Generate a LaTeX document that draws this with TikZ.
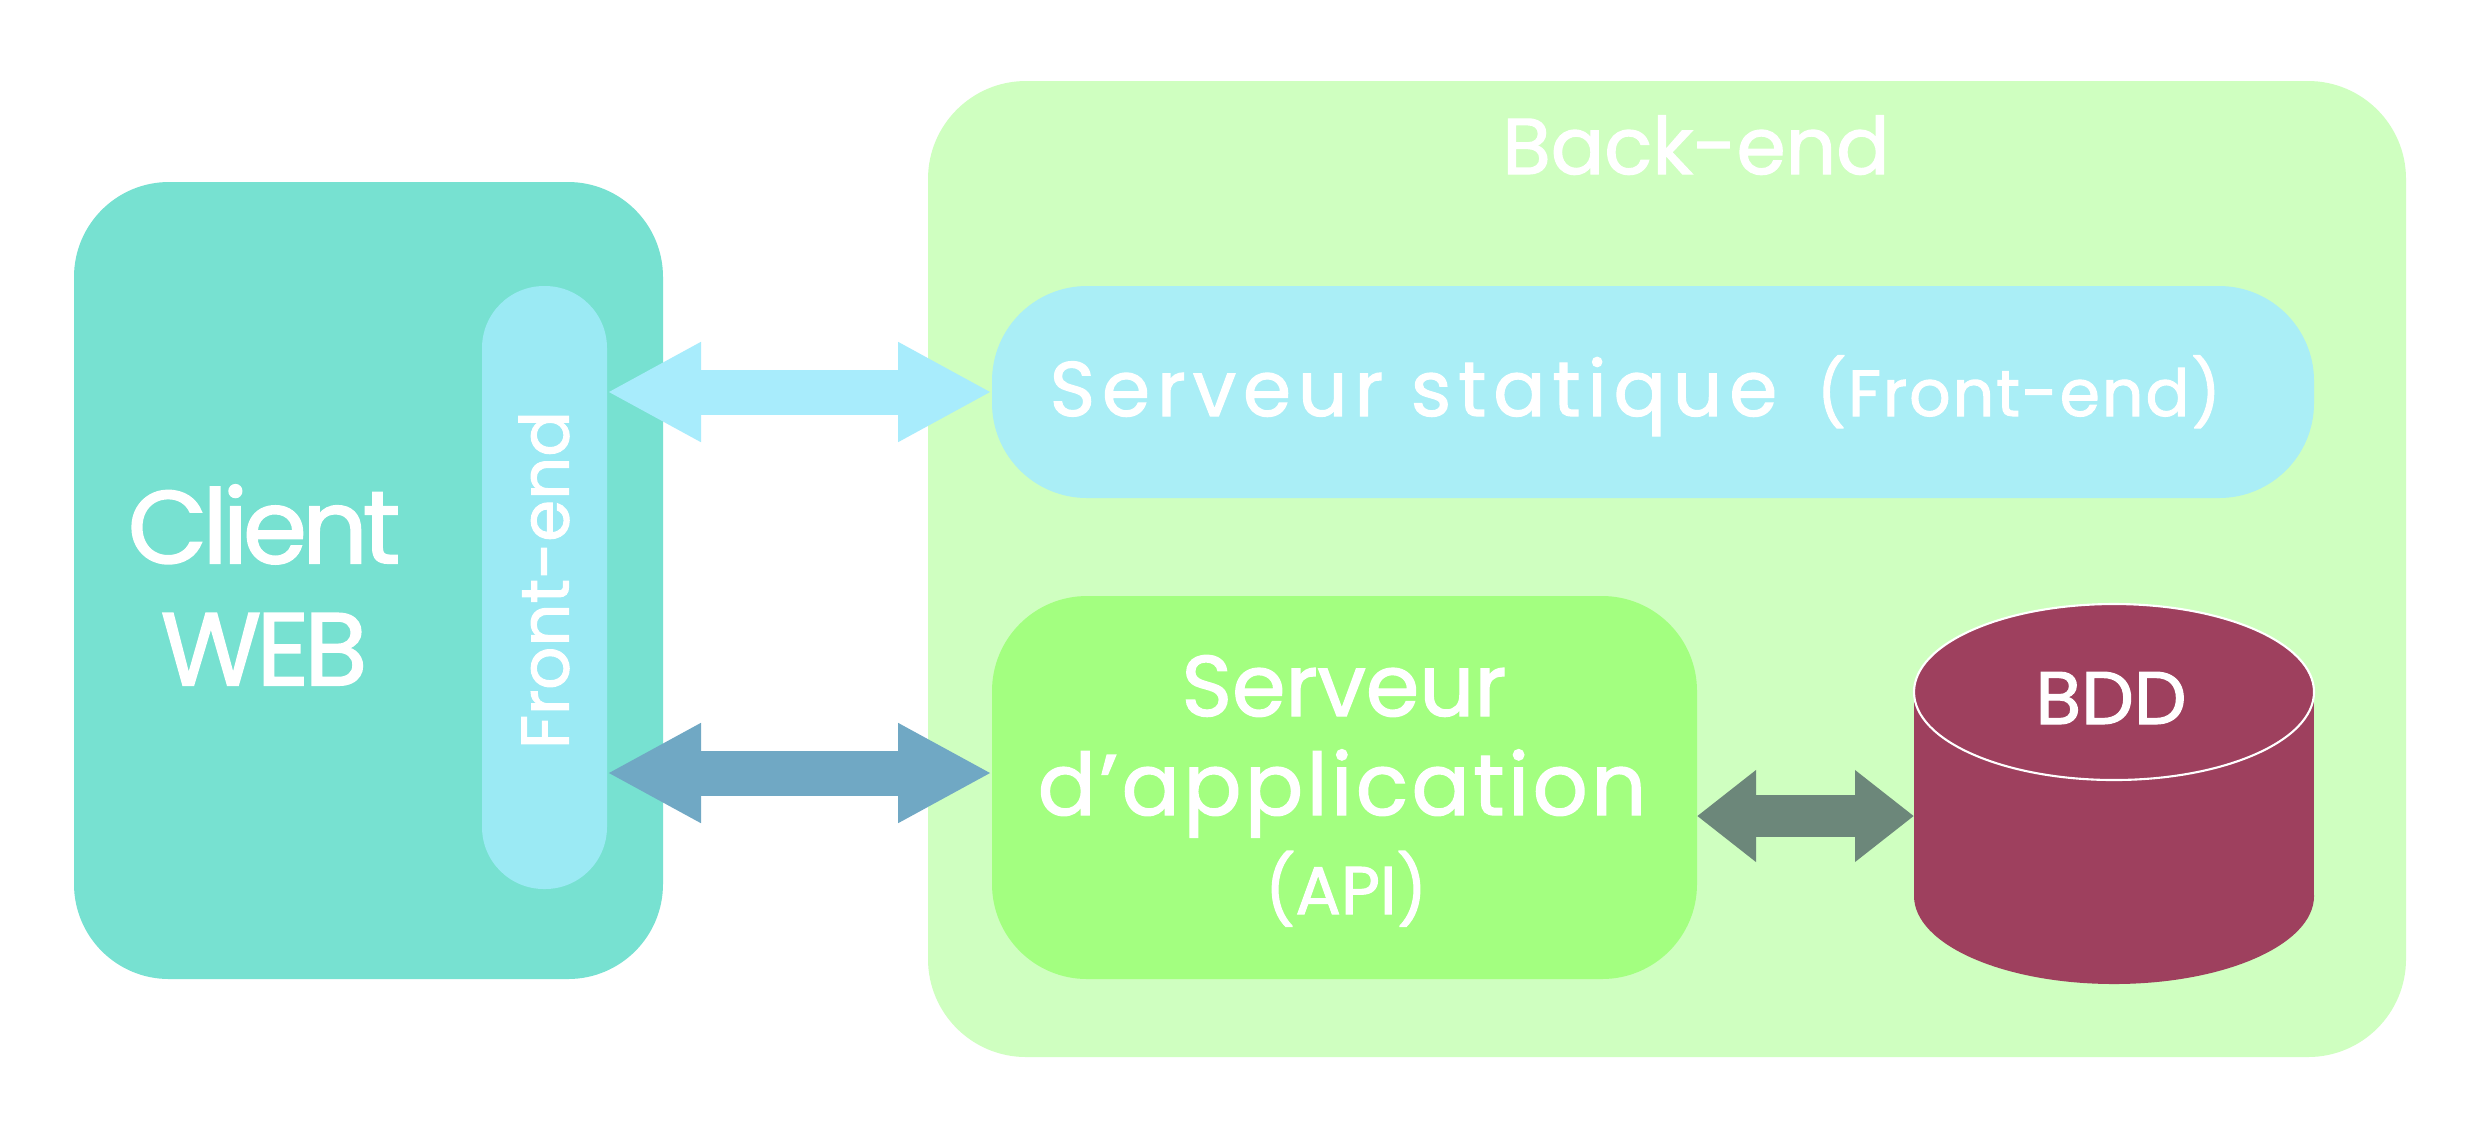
\documentclass[tikz,border=0pt]{standalone}
\usepackage{fontspec}
\setmainfont{Poppins}[FakeBold=1.5]
\usetikzlibrary{arrows.meta,positioning}

\definecolor{clientcol}{HTML}{77E1D1}
\definecolor{frontcol}{HTML}{9BEAF4}
\definecolor{backcol}{HTML}{CFFFC0}
\definecolor{staticcol}{HTML}{AAEEF6}
\definecolor{appcol}{HTML}{A3FF80}
\definecolor{bddcol}{HTML}{9E405E}
\definecolor{arrowone}{HTML}{A8ECFC}
\definecolor{arrowtwo}{HTML}{70A8C4}
\definecolor{arrowthree}{HTML}{6C877A}

\begin{document}
\begin{tikzpicture}[
  y = -1cm,
  box/.style = {rectangle, inner sep=0pt, outer sep=0pt},
  txt/.style = {text=white, inner sep=0pt},
  fat/.style = {line width=0.45cm,
                {Triangle[length=0.94cm, width=0.93cm]}-{Triangle[length=0.94cm, width=0.93cm]}},
  slim/.style = {line width=0.42cm,
                 {Triangle[length=0.59cm, width=0.88cm]}-{Triangle[length=0.59cm, width=0.88cm]}}
]
\useasboundingbox[fill=white] (0,0) rectangle (24.80,11.42);

% boxes
\node[box, fill=clientcol, rounded corners=0.95cm, minimum width=5.89cm, minimum height=7.97cm] (client) at (3.685,5.805) {};
\node[box, fill=frontcol, rounded corners=0.62cm, minimum width=1.25cm, minimum height=6.03cm] (front) at (5.445,5.875) {};
\node[box, fill=backcol, rounded corners=0.98cm, minimum width=14.78cm, minimum height=9.76cm] (back) at (16.67,5.69) {};
\node[box, fill=staticcol, rounded corners=0.95cm, minimum width=13.22cm, minimum height=2.12cm] (static) at (16.53,3.92) {};
\node[box, fill=appcol, rounded corners=0.95cm, minimum width=7.05cm, minimum height=3.83cm] (app) at (13.445,7.875) {};

% database
\fill[bddcol] (19.14,6.92) rectangle (23.14,8.96);
\fill[bddcol] (21.14,8.96) ellipse [x radius=2, y radius=0.88];
\draw[white, line width=0.6pt, fill=bddcol] (21.14,6.92) ellipse [x radius=2, y radius=0.88];
\coordinate (bddside) at (19.14,8.16);
\coordinate (apiport) at ([yshift=0.145cm]app.west);

% texts
\node[txt, align=center, font=\fontsize{29.4}{34.7}\selectfont\addfontfeatures{LetterSpace=-5}] (clienttxt) at (2.64,5.85) {Client\\WEB};
\node[txt, rotate=90, font=\fontsize{19.2}{23}\selectfont] (fronttxt) at (5.44,5.80) {Front-end};
\node[txt, anchor=base, font=\fontsize{22.5}{27}\selectfont] (backtxt) at (16.96,1.74) {Back-end};
\node[txt, anchor=base west, font=\fontsize{22}{26}\selectfont\addfontfeatures{LetterSpace=9}] (stattxt) at (10.49,4.16) {Serveur statique};
\node[txt, anchor=base west, font=\fontsize{18.5}{22}\selectfont\addfontfeatures{LetterSpace=3}] (stattxtb) at (18.16,4.16) {(Front-end)};
\node[txt, anchor=base, font=\fontsize{24.5}{29}\selectfont] (apptxt) at (13.44,7.16) {Serveur};
\node[txt, anchor=base, font=\fontsize{24.5}{29}\selectfont\addfontfeatures{LetterSpace=4}] (apptxtb) at (13.42,8.15) {d’application};
\node[txt, anchor=base, font=\fontsize{19.2}{23}\selectfont] (apitxt) at (13.46,9.14) {(API)};
\node[txt, anchor=base, font=\fontsize{21.2}{25}\selectfont] (bddtxt) at (21.11,7.24) {BDD};

% arrows
\draw[fat, arrowone] (front.east |- static.west) -- (static.west);
\draw[fat, arrowtwo] (front.east |- apiport) -- (apiport);
\draw[slim, arrowthree] (app.east |- bddside) -- (bddside);
\end{tikzpicture}
\end{document}
